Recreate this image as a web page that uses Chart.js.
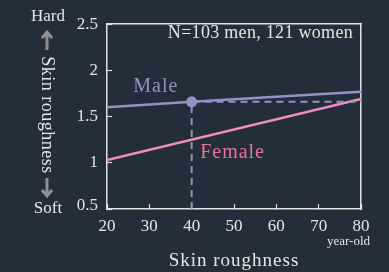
<!DOCTYPE html>
<html>
<head>
<meta charset="utf-8">
<script src="https://cdn.jsdelivr.net/npm/chart.js@4"></script>
<style>
  html, body { margin: 0; padding: 0; background: #242d3a; }
  #wrap { width: 389px; height: 272px; position: relative; }
</style>
</head>
<body>
<div id="wrap"><canvas id="myChart"></canvas></div>
<script>
const ages = [20, 40, 80]
const maleVals = [1.6, 1.66, 1.77]
const femaleVals = [1.03, 1.69]
const femaleAges = [20, 80]
const markAge = 40
const markVal = 1.66
const yTicks = [0.5, 1, 1.5, 2, 2.5]
const xTicks = [20, 30, 40, 50, 60, 70, 80]

const serif = "'Liberation Serif', 'DejaVu Serif', serif"
const txt = '#e6e6e6'
const axisCol = '#e2e2e2'
const maleCol = '#9393c3'
const femaleCol = '#f48cb8'

// simple arrow, dir -1 up, 1 down
function arrow(c, x, y0, y1, dir) {
  c.beginPath()
  c.moveTo(x, y0); c.lineTo(x, y1)
  const tip = dir < 0 ? y0 : y1
  c.moveTo(x - 5, tip - dir * 6); c.lineTo(x, tip); c.lineTo(x + 5, tip - dir * 6)
  c.stroke()
}

// text around the plot
const labelsPlugin = {
  id: 'labels',
  afterDraw(chart) {
    const c = chart.ctx
    const xs = chart.scales.x, ys = chart.scales.y
    c.save()
    c.textBaseline = 'alphabetic'
    c.fillStyle = txt
    c.font = '18px ' + serif
    c.textAlign = 'right'
    c.letterSpacing = '0.3px'
    c.fillText('N=103 men, 121 women', 353, 38)

    // 0.5 label sits a bit higher than its tick
    c.font = '17px ' + serif
    c.letterSpacing = '0px'
    c.fillText('0.5', 98, ys.getPixelForValue(0.5) + 1)

    c.fillStyle = maleCol
    c.textAlign = 'left'
    c.font = '20px ' + serif
    c.letterSpacing = '1px'
    c.fillText('Male', xs.getPixelForValue(26.2), 92)
    c.fillStyle = '#e8729f'
    c.fillText('Female', xs.getPixelForValue(42), 158)

    c.fillStyle = txt
    c.textAlign = 'center'
    c.letterSpacing = '0px'
    c.font = '17px ' + serif
    c.fillText('Hard', 48, 21)
    c.fillText('Soft', 48, 213)

    c.strokeStyle = '#8e8e94'
    c.lineWidth = 3
    c.lineCap = 'butt'
    arrow(c, 47, 32, 50, -1)
    arrow(c, 47, 178, 196, 1)

    c.fillStyle = txt
    c.font = '18px ' + serif
    c.letterSpacing = '0.5px'
    c.translate(42, 115)
    c.rotate(Math.PI / 2)
    c.fillText('Skin roughness', 0, 0)
    c.restore()

    c.save()
    c.fillStyle = txt
    c.textAlign = 'right'
    c.font = '13px ' + serif
    c.fillText('year-old', 370, 245)
    c.textAlign = 'center'
    c.font = '19px ' + serif
    c.letterSpacing = '1px'
    c.fillText('Skin roughness', 234, 266)
    c.restore()
  }
}

const ctx = document.getElementById('myChart')
new Chart(ctx, {
  type: 'line',
  data: {
    datasets: [{
      label: 'guide',
      data: [{x: markAge, y: 0.5}, {x: markAge, y: markVal}, {x: 80, y: markVal}],
      borderColor: maleCol,
      borderWidth: 2,
      borderDash: [7, 5],
      pointRadius: 0
    }, {
      label: 'Female',
      data: femaleAges.map((a, i) => ({x: a, y: femaleVals[i]})),
      borderColor: femaleCol,
      borderWidth: 2.5,
      pointRadius: 0
    }, {
      label: 'Male',
      data: ages.map((a, i) => ({x: a, y: maleVals[i]})),
      borderColor: maleCol,
      borderWidth: 2.5,
      pointRadius: ages.map(a => a === markAge ? 5.5 : 0),
      pointBackgroundColor: maleCol,
      pointBorderWidth: 0
    }]
  },
  options: {
    responsive: true,
    maintainAspectRatio: false,
    animation: false,
    layout: { padding: { top: 18, right: 28, left: 0, bottom: 0 } },
    plugins: { legend: { display: false }, tooltip: { enabled: false } },
    scales: {
      x: {
        type: 'linear', min: 20, max: 80,
        afterBuildTicks: s => { s.ticks = xTicks.map(v => ({value: v})) },
        afterFit: s => { s.height = 63 },
        border: { color: axisCol, width: 1.5 },
        grid: { display: true, drawOnChartArea: false, tickLength: -5, color: axisCol, tickWidth: 1.2 },
        ticks: { color: txt, font: { family: serif, size: 17 }, padding: 12, maxRotation: 0 }
      },
      y: {
        min: 0.5, max: 2.5,
        afterBuildTicks: s => { s.ticks = yTicks.map(v => ({value: v})) },
        afterFit: s => { s.width = 107 },
        border: { color: axisCol, width: 1.5 },
        grid: { display: true, drawOnChartArea: false, tickLength: -5, color: axisCol, tickWidth: 1.2 },
        ticks: { color: txt, font: { family: serif, size: 17 }, padding: 14,
          callback: v => v === 0.5 ? '' : String(v) }
      },
      x2: {
        type: 'linear', position: 'top', min: 20, max: 80,
        border: { color: axisCol, width: 1.5 }, grid: { display: false }, ticks: { display: false },
        afterFit: s => { s.height = 0 }
      },
      y2: {
        position: 'right', min: 0.5, max: 2.5,
        border: { color: axisCol, width: 1.5 }, grid: { display: false }, ticks: { display: false },
        afterFit: s => { s.width = 0 }
      }
    }
  },
  plugins: [labelsPlugin]
})
</script>
</body>
</html>
